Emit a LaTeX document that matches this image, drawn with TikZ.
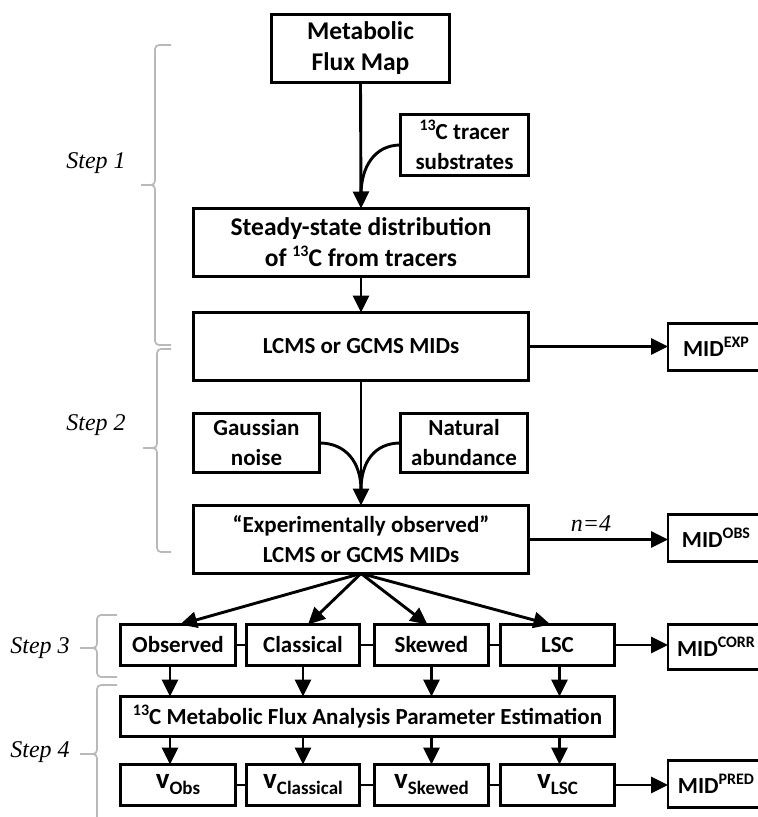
\documentclass[tikz,border=0pt]{standalone}
\usepackage{fontspec}
\setmainfont{Carlito}
\newfontfamily\stepfont{Liberation Serif}
\usetikzlibrary{arrows.meta}
\newcommand\mysup[1]{\raisebox{0.40em}{\fontsize{16}{16}\selectfont #1}}
\newcommand\myv[1]{{\fontsize{29}{29}\selectfont v}\raisebox{-6pt}{\fontsize{19}{19}\selectfont #1}}
\begin{document}
\begin{tikzpicture}[x=1pt,y=-1pt,
 box/.style={draw, line width=2.9pt, inner sep=0pt, outer sep=0pt, align=center, font=\fontsize{23}{30}\selectfont\bfseries},
 bigbox/.style={box, font=\fontsize{25.5}{31}\selectfont\bfseries},
 conn/.style={line width=2.9pt, -{Triangle[length=17pt,width=16pt]}},
 plain/.style={line width=2.9pt},
 brace/.style={draw=gray!55, line width=1.7pt, rounded corners=4pt},
 steplab/.style={font=\fontsize{24}{24}\selectfont\stepfont\itshape}]
\useasboundingbox (0,0) rectangle (758,817);
\clip (0,0) rectangle (758,817);
% main column
\node[bigbox, minimum width=178pt, minimum height=68pt] (meta) at (360.5,48.5) {Metabolic\\Flux Map};
\node[box, minimum width=128pt, minimum height=61pt] (tracer) at (464.5,145) {\mysup{13}C tracer\\substrates};
\node[bigbox, minimum width=335pt, minimum height=68pt] (steady) at (361,242.5) {Steady-state distribution\\of \mysup{13}C from tracers};
\node[box, minimum width=335pt, minimum height=68pt] (lcms) at (361,346.5) {LCMS or GCMS MIDs};
\node[box, minimum width=96pt, minimum height=47pt] (mexp) at (716,347) {MID\mysup{EXP}};
\node[box, minimum width=126pt, minimum height=59pt] (gauss) at (256.5,443) {Gaussian\\noise};
\node[box, minimum width=127pt, minimum height=59pt] (natural) at (464,443) {Natural\\abundance};
\node[box, minimum width=335pt, minimum height=68pt] (exp) at (361,539.5) {``Experimentally observed''\\LCMS or GCMS MIDs};
\node[box, minimum width=96pt, minimum height=47pt] (mobs) at (716,538) {MID\mysup{OBS}};
\node[steplab] (n4) at (591,524) {n=4};
% step 3 row
\node[box, minimum width=115pt, minimum height=41pt] (obs) at (178,645) {Observed};
\node[box, minimum width=113pt, minimum height=41pt] (cls) at (303,645) {Classical};
\node[box, minimum width=114pt, minimum height=41pt] (skw) at (431.5,645) {Skewed};
\node[box, minimum width=114pt, minimum height=41pt] (lsc) at (557.5,645) {LSC};
\node[box, minimum width=96pt, minimum height=45pt] (mcorr) at (716,647) {MID\mysup{CORR}};
% step 4
\node[box, minimum width=494pt, minimum height=40pt] (param) at (367.5,716.5) {\mysup{13}C Metabolic Flux Analysis Parameter Estimation};
\node[box, minimum width=115pt, minimum height=41pt] (vobs) at (178,785) {\myv{Obs}};
\node[box, minimum width=113pt, minimum height=41pt] (vcls) at (303,785) {\myv{Classical}};
\node[box, minimum width=114pt, minimum height=41pt] (vskw) at (431.5,785) {\myv{Skewed}};
\node[box, minimum width=114pt, minimum height=41pt] (vlsc) at (557.5,785) {\myv{LSC}};
\node[box, minimum width=96pt, minimum height=47pt] (mpred) at (716,784) {MID\mysup{PRED}};
% connectors
\coordinate (m1) at (361,195);
\coordinate (m2) at (361,490);
\draw[conn] (meta.south) -- (steady.north);
\draw[plain] (tracer.west) .. controls +(-26,0) and +(0,-28) .. (m1);
\draw[conn] (steady.south) -- (lcms.north);
\draw[conn] (lcms.east) -- (lcms.east -| mexp.west);
\draw[conn] (lcms.south) -- (exp.north);
\draw[plain] (gauss.east) .. controls +(26,0) and +(0,-28) .. (m2);
\draw[plain] (natural.west) .. controls +(-26,0) and +(0,-28) .. (m2);
\draw[conn] (exp.east) -- (exp.east -| mobs.west);
\draw[conn] (exp.south) -- ([xshift=2pt]obs.north);
\draw[conn] (exp.south) -- ([xshift=5pt]cls.north);
\draw[conn] (exp.south) -- ([xshift=-4pt]skw.north);
\draw[conn] (exp.south) -- ([xshift=-7pt]lsc.north);
\draw[plain] (obs.east) -- (cls.west);
\draw[plain] (cls.east) -- (skw.west);
\draw[plain] (skw.east) -- (lsc.west);
\draw[conn] (lsc.east) -- (lsc.east -| mcorr.west);
\draw[conn] ([xshift=-8pt]obs.south) -- ([xshift=-8pt]obs.south |- param.north);
\draw[conn] (cls.south) -- (cls.south |- param.north);
\draw[conn] (skw.south) -- (skw.south |- param.north);
\draw[conn] ([xshift=2pt]lsc.south) -- ([xshift=2pt]lsc.south |- param.north);
\draw[conn] ([xshift=-8pt]vobs.north |- param.south) -- ([xshift=-8pt]vobs.north);
\draw[conn] (vcls.north |- param.south) -- (vcls.north);
\draw[conn] (vskw.north |- param.south) -- (vskw.north);
\draw[conn] ([xshift=2pt]vlsc.north |- param.south) -- ([xshift=2pt]vlsc.north);
\draw[plain] (vobs.east) -- (vcls.west);
\draw[plain] (vcls.east) -- (vskw.west);
\draw[plain] (vskw.east) -- (vlsc.west);
\draw[conn] (vlsc.east) -- (vlsc.east -| mpred.west);
% braces
\draw[brace] (171,45) -- (155,45) -- (155,185) -- (141,185);
\draw[brace] (141,185) -- (155,185) -- (155,345) -- (171,345);
\draw[brace] (171,349) -- (157,349) -- (157,448) -- (143,448);
\draw[brace] (143,448) -- (157,448) -- (157,552) -- (171,552);
\draw[brace] (117,615) -- (97,615) -- (97,648) -- (80,648);
\draw[brace] (80,648) -- (97,648) -- (97,677) -- (117,677);
\draw[brace] (117,685) -- (97,685) -- (97,754) -- (80,754);
\draw[brace] (80,754) -- (97,754) -- (97,840);
\node[steplab] (s1) at (96,163) {Step 1};
\node[steplab] (s2) at (96,425) {Step 2};
\node[steplab] (s3) at (40,648) {Step 3};
\node[steplab] (s4) at (40,752) {Step 4};
\end{tikzpicture}
\end{document}
